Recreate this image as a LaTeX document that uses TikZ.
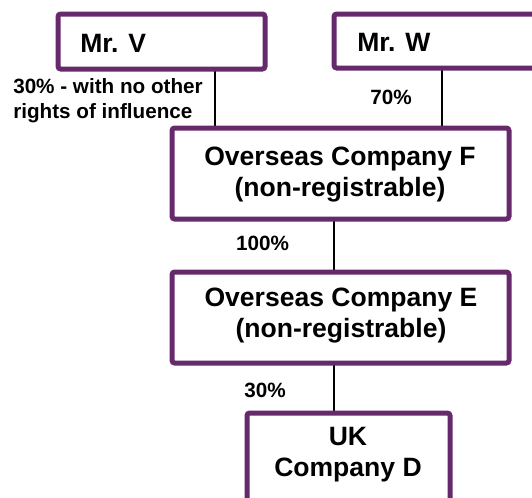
\documentclass[tikz,border=0pt]{standalone}
\usepackage{fontspec}
\setmainfont{Liberation Sans}
\usetikzlibrary{calc,backgrounds}
\definecolor{boxpurple}{RGB}{102,41,107}
\begin{document}
\begin{tikzpicture}[x=0.75pt,y=-0.75pt,
  entity/.style={draw=boxpurple, line width=3.75pt, fill=white, rounded corners=2pt, inner sep=0pt, outer sep=0pt},
  boxtext/.style={font=\fontsize{19.9}{23.3}\selectfont\bfseries, align=center, inner sep=0pt},
  pct/.style={font=\fontsize{15.5}{18.75}\selectfont\bfseries, inner sep=0pt},
  link/.style={line width=1.3pt, black}]
\useasboundingbox (0,0) rectangle (532,497);
\clip (0,0) rectangle (532,497);
% boxes
\node[entity, minimum width=155.25pt, minimum height=41.25pt] (V) at (161.5,41.5) {};
\node[entity, minimum width=154.5pt, minimum height=40.5pt] (W) at (437,41) {};
\node[entity, minimum width=252.75pt, minimum height=68.25pt] (F) at (340.5,173.5) {};
\node[entity, minimum width=252.75pt, minimum height=68.25pt] (E) at (340.5,317.5) {};
\node[entity, minimum width=152.25pt, minimum height=80.25pt] (D) at (348.5,466.5) {};
% box texts
\node[boxtext, anchor=west] (Vt) at (80,43.5) {Mr. V};
\node[boxtext, anchor=west] (Wt) at (357,42.5) {Mr. W};
\node[boxtext] (Ft) at (340,175) {Overseas Company F\\(non-registrable)};
\node[boxtext] (Et) at (341,316) {Overseas Company E\\(non-registrable)};
\node[boxtext] (Dt) at (348,455) {UK\\Company D};
% percentage labels
\node[pct, anchor=west, align=left] (lv) at (13,101) {30\% - with no other\\rights of influence};
\node[pct] (lw) at (391,97.5) {70\%};
\node[pct] (lf) at (262.5,243.5) {100\%};
\node[pct] (le) at (265,390.5) {30\%};
% connectors
\coordinate (v1) at ($(V.south west)!0.758!(V.south east)$);
\coordinate (w1) at ($(W.south west)!0.524!(W.south east)$);
\coordinate (f1) at ($(F.south west)!0.481!(F.south east)$);
\coordinate (e1) at ($(E.south west)!0.481!(E.south east)$);
\begin{scope}[on background layer]
\draw[link] (v1) -- (v1 |- F.north);
\draw[link] (w1) -- (w1 |- F.north);
\draw[link] (f1) -- (f1 |- E.north);
\draw[link] (e1) -- (e1 |- D.north);
\end{scope}
\end{tikzpicture}
\end{document}
